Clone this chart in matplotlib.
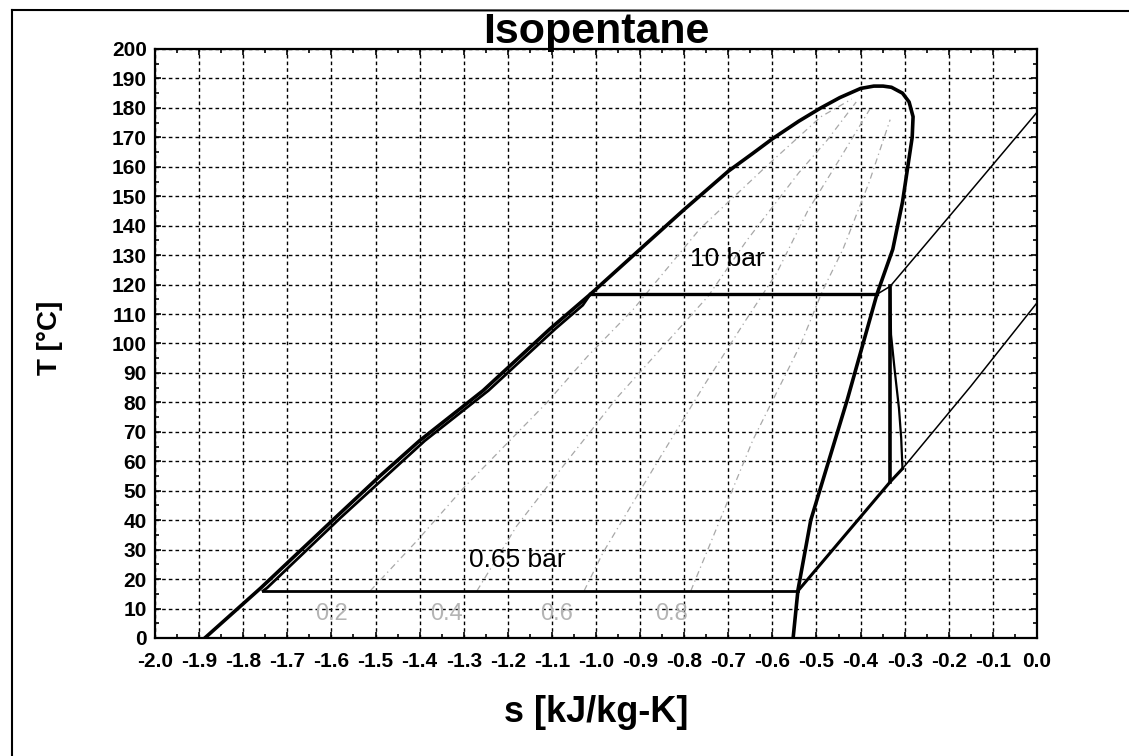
import matplotlib
matplotlib.use("Agg")
import matplotlib.pyplot as plt
from matplotlib.lines import Line2D
from matplotlib.ticker import MultipleLocator

plt.rcParams['font.family'] = ['Liberation Sans', 'DejaVu Sans']

# ---- data ----
# saturated liquid line (bottom -> critical point)
s_liq = [-1.887, -1.76, -1.59, -1.49, -1.40, -1.256, -1.104, -1.013, -0.90, -0.80,
         -0.70, -0.645, -0.60, -0.54, -0.49, -0.447, -0.40, -0.37]
T_liq = [0, 17, 41, 55, 67, 84, 105, 116.7, 132, 145.5, 158.5, 164.5, 169.5, 175.5,
         180, 183.5, 186.6, 187.4]
# saturated vapour line (critical point -> bottom)
s_vap = [-0.349, -0.33, -0.305, -0.29, -0.281, -0.283, -0.293, -0.305, -0.327, -0.363,
         -0.43, -0.513, -0.542, -0.553]
T_vap = [187.4, 187, 185, 182, 177, 170, 160, 148, 132, 116.7, 81, 40, 16.3, 0]

# liquid heating at 10 bar (runs just right of the saturated liquid line)
s_heat = [-1.755, -1.746, -1.578, -1.388, -1.244, -1.092, -1.03, -1.013]
T_heat = [16, 17, 41, 67, 84, 105, 113, 116.7]

# 10 bar isobar
s_evap = [-1.013, -0.363]
T_evap = [116.7, 116.7]
s_p10 = [-0.363, -0.333, -0.18, 0.0]
T_p10 = [116.7, 119.4, 146.5, 178.5]

# 0.65 bar isobar
s_cond = [-1.755, -0.542]
T_cond = [16, 16]
s_desup = [-0.542, -0.333, -0.305]
T_desup = [16, 53, 57.5]
s_p065 = [-0.305, -0.15, 0.0]
T_p065 = [57.5, 85.5, 113.8]

# expansion: isentropic and real
s_isen = [-0.333, -0.333]
T_isen = [119.4, 53]
s_real = [-0.333, -0.331, -0.322, -0.313, -0.308, -0.305]
T_real = [119.4, 103, 90, 78, 68, 57.5]

# constant quality lines
q_names = ["0.2", "0.4", "0.6", "0.8"]
q_s = [[-1.512, -1.406, -1.30, -1.111, -1.02, -0.916, -0.764, -0.615, -0.49, -0.42],
       [-1.270, -1.18, -1.066, -0.95, -0.848, -0.746, -0.658, -0.54, -0.476, -0.41],
       [-1.027, -0.984, -0.862, -0.754, -0.66, -0.590, -0.52, -0.45, -0.379],
       [-0.785, -0.644, -0.535, -0.486, -0.44, -0.38, -0.333]]
q_T = [[16, 33, 51, 80, 95.5, 111.5, 139, 160, 177, 183],
       [16, 38, 60, 82, 99, 116, 135, 158, 169, 182],
       [16, 29, 59.5, 86, 108, 124, 145, 162, 179.6],
       [16, 67.3, 100, 118, 132, 155, 176]]
q_label_s = [-1.60, -1.338, -1.09, -0.828]
q_label_T = 8

x_ticks = [-2.0, -1.9, -1.8, -1.7, -1.6, -1.5, -1.4, -1.3, -1.2, -1.1, -1.0,
           -0.9, -0.8, -0.7, -0.6, -0.5, -0.4, -0.3, -0.2, -0.1, 0.0]
x_ticklabels = ["-2.0", "-1.9", "-1.8", "-1.7", "-1.6", "-1.5", "-1.4", "-1.3", "-1.2", "-1.1", "-1.0",
                "-0.9", "-0.8", "-0.7", "-0.6", "-0.5", "-0.4", "-0.3", "-0.2", "-0.1", "0.0"]
y_ticks = list(range(0, 201, 10))

# ---- figure ----
fig = plt.figure(figsize=(11.29, 7.56), dpi=100)
ax = fig.add_axes([0.1373, 0.1561, 0.7812, 0.7791])

# quality lines
for qs, qt in zip(q_s, q_T):
    ax.plot(qs, qt, color='#a8a8a8', lw=0.9, linestyle=(0, (5, 3, 1, 3)), zorder=2)
for name, qs in zip(q_names, q_label_s):
    ax.text(qs, q_label_T, name, ha='center', va='center', fontsize=17,
            color='#b4b4b4', zorder=2)

# dome
ax.plot(s_liq + s_vap, T_liq + T_vap, color='black', lw=2.6, zorder=4,
        solid_joinstyle='round')
ax.plot(s_heat, T_heat, color='black', lw=2.0, zorder=4)

# isobars
ax.plot(s_evap, T_evap, color='black', lw=2.4, zorder=4)
ax.plot(s_p10, T_p10, color='black', lw=1.1, zorder=3)
ax.plot(s_cond, T_cond, color='black', lw=2.0, zorder=4)
ax.plot(s_desup, T_desup, color='black', lw=2.2, zorder=4)
ax.plot(s_p065, T_p065, color='black', lw=1.1, zorder=3)

# expansion
ax.plot(s_isen, T_isen, color='black', lw=2.6, zorder=4)
ax.plot(s_real, T_real, color='black', lw=1.6, zorder=4)

ax.text(-0.703, 128.6, "10 bar", ha='center', va='center', fontsize=19, zorder=5)
ax.text(-1.178, 26.5, "0.65 bar", ha='center', va='center', fontsize=19, zorder=5)

# axes styling
ax.set_xlim(-2.0, 0.0)
ax.set_ylim(0, 200)
ax.set_xticks(x_ticks)
ax.set_xticklabels(x_ticklabels)
ax.set_yticks(y_ticks)
ax.xaxis.set_minor_locator(MultipleLocator(0.05))
ax.yaxis.set_minor_locator(MultipleLocator(5))
ax.tick_params(which='both', direction='in', top=True, right=True, width=1.2)
ax.tick_params(which='major', length=4)
ax.tick_params(which='minor', length=3)
ax.tick_params(axis='x', labelsize=15, pad=10)
ax.tick_params(axis='y', labelsize=15, pad=6)
for lab in ax.get_xticklabels() + ax.get_yticklabels():
    lab.set_fontweight('bold')
for sp in ax.spines.values():
    sp.set_linewidth(1.6)
ax.grid(True, which='major', color='black', lw=1.0, linestyle=(0, (2.6, 2.2)))
ax.set_axisbelow(True)

fig.text(0.528, 1 - 43 / 756, "Isopentane", ha='center', va='baseline',
         fontsize=31, fontweight='bold')
fig.text(50 / 1129, 1 - 338 / 756, "T [°C]", rotation=90, ha='center', va='center',
         fontsize=20, fontweight='bold')
fig.text(0.528, 1 - 712 / 756, "s [kJ/kg-K]", ha='center', va='center',
         fontsize=26, fontweight='bold')

# outer frame
fig.add_artist(Line2D([12 / 1129, 12 / 1129], [0, 1 - 10 / 756], transform=fig.transFigure,
                      color='black', lw=1.5))
fig.add_artist(Line2D([12 / 1129, 1], [1 - 10 / 756, 1 - 11 / 756], transform=fig.transFigure,
                      color='black', lw=1.5))

fig.savefig("out.png", dpi=100)
